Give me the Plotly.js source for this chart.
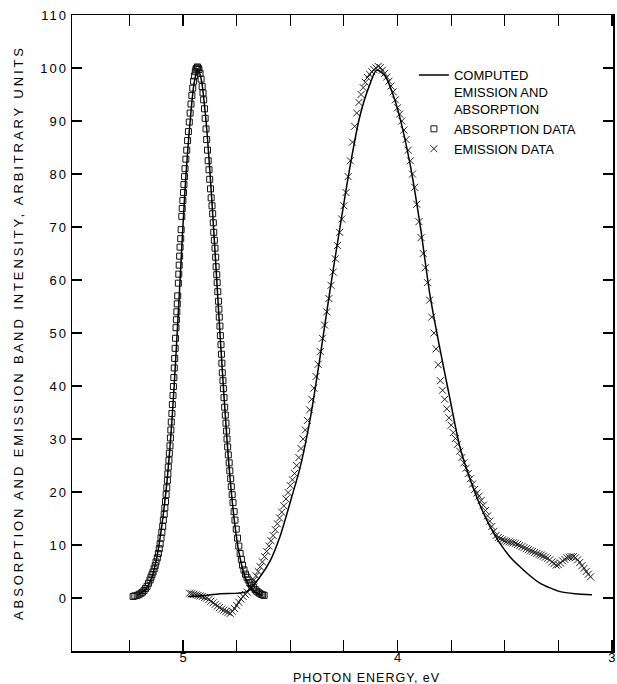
<!DOCTYPE html>
<html>
<head>
<meta charset="utf-8">
<script src="https://cdn.plot.ly/plotly-3.0.1.min.js"></script>
<style>
html,body{margin:0;padding:0;background:#fff;}
#chart{width:617px;height:684px;}
</style>
</head>
<body>
<div id="chart"></div>
<script>
// Absorption data (squares): photon energy (eV) and intensity
const absE = [5.233,5.225,5.214,5.205,5.196,5.189,5.182,5.175,5.168,5.161,5.154,5.150,5.145,5.140,5.135,5.130,5.126,5.120,5.115,5.111,5.107,5.103,5.099,5.095,5.092,5.088,5.085,5.082,5.079,5.076,5.073,5.071,5.069,5.066,5.064,5.061,5.059,5.057,5.055,5.052,5.050,5.047,5.045,5.043,5.041,5.039,5.037,5.035,5.033,5.031,5.029,5.027,5.025,5.022,5.020,5.018,5.016,5.014,5.011,5.009,5.006,5.004,5.001,4.998,4.996,4.993,4.991,4.987,4.983,4.979,4.975,4.971,4.967,4.963,4.959,4.955,4.951,4.947,4.943,4.940,4.936,
  4.933,4.930,4.926,4.921,4.916,4.911,4.907,4.904,4.900,4.897,4.893,4.890,4.886,4.883,4.879,4.876,4.872,4.869,4.865,4.862,4.859,4.857,4.854,4.851,4.848,4.846,4.843,4.841,4.838,4.835,4.833,4.831,4.828,4.826,4.823,4.821,4.819,4.817,4.814,4.812,4.809,4.806,4.803,4.800,4.797,4.795,4.792,4.789,4.785,4.782,4.778,4.775,4.771,4.767,4.762,4.758,4.752,4.746,4.740,4.734,4.728,4.723,4.716,4.709,4.702,4.696,4.688,4.681,4.672,4.664,4.657,4.650,4.643,4.636,4.629,4.622];
const absI = [0.3,0.4,0.5,0.7,0.9,1.1,1.4,1.8,2.2,2.8,3.4,3.9,4.4,4.9,5.5,6.1,6.8,7.6,8.4,9.3,10.2,11.3,12.4,13.5,14.7,15.8,17,18.2,19.5,20.8,22.2,23.4,24.7,26,27.3,28.7,30.2,31.7,33.2,34.8,36.5,38.2,39.9,41.6,43.4,45.2,47.1,49,51,52.5,54,55.5,57,59.4,61.1,62.8,64.5,66.2,67.8,69.5,72,73.5,75,76.5,78,79.5,81,82.8,84.5,86.3,88,89.8,91.5,93.2,94.8,96.2,97.5,98.5,99.3,99.8,100,
  100.2,100,99.7,99,97.9,96.5,95.3,94,92.3,90.5,88.5,86.5,84.5,82.5,80.8,79,77.2,75.5,74,72.5,70.8,69,67.5,66,64.3,62.5,61,59.5,57.8,56,54.5,53,51.3,49.5,47.8,46,44.3,42.5,41,39.5,37.8,36,34.5,33,31.5,30,28.5,27,25.5,24,22.5,21,19.5,18,16.3,14.7,13,11.3,9.8,8.4,7.3,6.2,5.3,4.5,3.9,3.4,2.9,2.4,2.0,1.6,1.3,1.1,0.9,0.7,0.6,0.5];

// Emission data (crosses)
const emE = [4.97,4.96,4.95,4.94,4.93,4.92,4.91,4.90,4.89,4.88,4.87,4.86,4.85,4.84,4.83,4.82,4.81,4.80,4.79,4.78,4.77,4.76,4.75,4.74,4.73,4.72,4.71,4.70,4.69,4.68,4.67,4.66,4.65,4.64,4.63,4.62,4.61,4.60,4.59,4.58,4.57,4.56,4.55,4.54,4.53,4.52,4.51,4.50,4.49,4.48,4.47,4.46,4.45,4.44,4.43,4.42,4.41,4.40,4.39,4.38,4.37,4.36,4.35,4.34,4.33,4.32,4.31,4.30,4.29,4.28,4.27,4.26,4.25,4.24,4.23,4.22,4.21,4.20,4.19,4.18,4.17,4.16,4.15,4.14,4.13,4.12,4.11,4.10,4.09,4.08,4.07,4.06,4.05,4.04,4.03,4.02,4.01,4.00,3.99,3.98,3.97,3.96,3.95,3.94,3.93,3.92,3.91,3.90,3.89,3.88,3.87,3.86,3.85,3.84,3.83,3.82,3.81,3.80,3.79,3.78,3.77,3.76,3.75,3.74,3.73,3.72,3.71,3.70,3.69,3.68,3.67,3.66,3.65,3.64,3.63,3.62,3.61,3.60,3.59,3.58,3.57,3.56,3.55,3.54,3.53,3.52,3.51,3.50,3.49,3.48,3.47,3.46,3.45,3.44,3.43,3.42,3.41,3.40,3.39,3.38,3.37,3.36,3.35,3.34,3.33,3.32,3.31,3.30,3.29,3.28,3.27,3.26,3.25,3.24,3.23,3.22,3.21,3.20,3.19,3.18,3.17,3.16,3.15,3.14,3.13,3.12,3.11,3.10];
const emI = [0.9,0.8,0.7,0.6,0.5,0.4,0.3,0.1,0.0,-0.3,-0.6,-0.9,-1.2,-1.5,-1.8,-2.1,-2.3,-2.5,-2.7,-2.9,-2.5,-2.0,-1.4,-0.8,-0.2,0.3,0.7,1.1,1.8,2.6,3.4,4.2,5.0,5.9,6.8,7.8,8.8,9.8,10.8,11.8,12.9,14.0,15.1,16.2,17.4,18.7,19.9,21.2,22.3,23.5,25.0,26.5,28.2,30.0,31.7,33.5,35.5,37.5,39.6,41.8,44.1,46.5,49.0,51.5,54.0,56.5,59.0,61.5,64.0,66.5,69.0,71.5,74.0,76.5,79.5,82.5,86.0,89.0,91.5,93.5,95.0,96.3,97.3,98.2,98.8,99.3,99.7,100.0,100.3,100.1,99.6,99.0,98.3,97.5,96.6,95.5,94.0,92.5,91.3,90.0,88.3,86.5,84.5,82.5,80.0,77.5,74.3,71.0,68.0,65.0,62.3,59.5,56.2,53.0,50.0,47.0,44.0,41.0,39.2,37.5,35.7,34.0,32.6,31.2,30.1,29.0,27.7,26.5,25.5,24.5,23.5,22.5,21.5,20.5,19.8,19.2,18.4,17.5,16.5,15.5,14.5,13.5,12.6,11.8,11.4,11.2,11.0,10.8,10.7,10.6,10.5,10.4,10.3,10.1,9.9,9.7,9.5,9.3,9.1,8.9,8.8,8.6,8.4,8.2,8.1,7.9,7.7,7.5,7.2,6.8,6.5,6.2,6.3,6.6,7.0,7.3,7.6,7.7,7.8,7.8,7.6,7.2,6.7,6.1,5.6,5.0,4.5,4.0];

// Computed absorption curve
const calcAbsE = [5.214,5.177,5.145,5.121,5.098,5.075,5.051,5.033,5.014,4.991,4.967,4.949,4.932,4.916,4.893,4.869,4.846,4.828,4.809,4.786,4.762,4.739,4.711,4.678,4.632];
const calcAbsI = [0.5,1.5,4,8,14,22,34,46,60,77,90,97,99.8,98,90,77,62,50,38,25,15,8.5,4,1.5,0.5];

// Computed emission curve
const calcEmE = [4.977,4.921,4.828,4.703,4.641,4.594,4.548,4.493,4.455,4.408,4.361,4.315,4.268,4.221,4.175,4.128,4.097,4.058,4.021,3.988,3.942,3.895,3.848,3.802,3.755,3.709,3.662,3.615,3.569,3.522,3.476,3.429,3.382,3.336,3.289,3.242,3.172,3.093];
const calcEmI = [0.3,0.4,0.8,1.2,4,7,11.6,19.1,24.5,33.6,45.5,58,70,81.5,91,97,99.6,98.5,95,90.5,82,70.5,57,47,37.5,28.5,22.5,17.5,13.5,10.3,7.8,5.9,4.2,2.8,1.9,1.2,0.8,0.6];

// Tick labels
const xTickVals = [5.25,5.0,4.75,4.5,4.25,4.0,3.75,3.5,3.25,3.0];
const xTickText = ['','5','','','','4','','','','3'];
const yTickVals = [0,10,20,30,40,50,60,70,80,90,100,110];
const yTickText = ['0','10','20','30','40','50','60','70','80','90','100','110'];

const FONT = 'Liberation Sans, Arial, sans-serif';
const sp = (t, s) => '<span style="letter-spacing:' + s + 'px">' + t + '</span>';

const traces = [
  {x: absE, y: absI, mode: 'markers', name: 'ABSORPTION DATA',
   marker: {symbol: 'square-open', size: 6, color: '#111', line: {width: 1, color: '#111'}}},
  {x: emE, y: emI, mode: 'markers', name: 'EMISSION DATA',
   marker: {symbol: 'x-thin-open', size: 7, color: '#222', line: {width: 1, color: '#222'}}},
  {x: calcAbsE, y: calcAbsI, mode: 'lines', name: 'COMPUTED<br>EMISSION AND<br>ABSORPTION',
   line: {color: '#000', width: 1.5, shape: 'spline', smoothing: 0.8}, legendrank: 1},
  {x: calcEmE, y: calcEmI, mode: 'lines', showlegend: false,
   line: {color: '#000', width: 1.5, shape: 'spline', smoothing: 0.8}}
];

const layout = {
  width: 617, height: 684,
  margin: {l: 72, r: 4, t: 15, b: 33},
  paper_bgcolor: '#fff', plot_bgcolor: '#fff',
  font: {family: FONT, color: '#000', size: 13},
  showlegend: true,
  legend: {x: 0.632, y: 0.929, xanchor: 'left', yanchor: 'top', valign: 'top',
           bgcolor: 'rgba(0,0,0,0)', font: {family: FONT, size: 13, color: '#000'},
           traceorder: 'normal', tracegroupgap: 0},
  xaxis: {range: [5.518, 2.995], showgrid: false, zeroline: false,
          showline: true, linecolor: '#000', linewidth: 1.5, mirror: 'ticks',
          ticks: 'inside', ticklen: 11, tickwidth: 1.2, tickcolor: '#000',
          tickvals: xTickVals, ticktext: xTickText, ticklabelstandoff: -6,
          tickfont: {family: FONT, size: 13, color: '#000'}},
  yaxis: {range: [-10, 110], showgrid: false, zeroline: false,
          showline: true, linecolor: '#000', linewidth: 1.5, mirror: 'ticks',
          ticks: 'inside', ticklen: 10, tickwidth: 1.2, tickcolor: '#000',
          tickvals: yTickVals, ticktext: yTickText.map(t => sp(t, 2)),
          tickfont: {family: FONT, size: 13, color: '#000'}},
  annotations: [
    {text: sp('PHOTON ENERGY, eV', 1), xref: 'paper', yref: 'paper', x: 0.545, y: -0.042,
     xanchor: 'center', yanchor: 'middle', showarrow: false, font: {family: FONT, size: 12.5}},
    {text: sp('ABSORPTION AND EMISSION BAND INTENSITY, ARBITRARY UNITS', 2.9), xref: 'paper', yref: 'paper',
     x: -0.0998, y: 0.5, xanchor: 'center', yanchor: 'middle', textangle: -90, showarrow: false,
     font: {family: FONT, size: 13}}
  ]
};

Plotly.newPlot('chart', traces, layout, {displayModeBar: false, staticPlot: true});
</script>
</body>
</html>
